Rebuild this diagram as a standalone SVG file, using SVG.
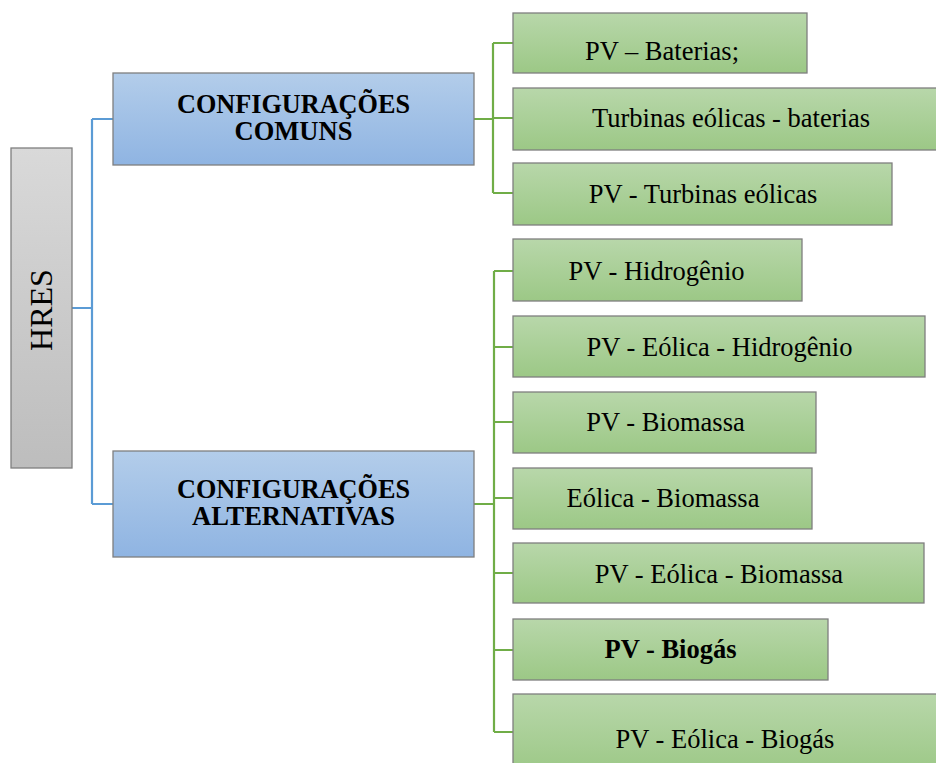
<svg xmlns="http://www.w3.org/2000/svg" width="936" height="763" viewBox="0 0 936 763">
  <defs>
    <linearGradient id="gGray" x1="0" y1="0" x2="0" y2="1">
      <stop offset="0" stop-color="#d9d9d9"/>
      <stop offset="1" stop-color="#bdbdbd"/>
    </linearGradient>
    <linearGradient id="gBlue" x1="0" y1="0" x2="0" y2="1">
      <stop offset="0" stop-color="#b3cdea"/>
      <stop offset="1" stop-color="#8fb4e2"/>
    </linearGradient>
    <linearGradient id="gGreen" x1="0" y1="0" x2="0" y2="1">
      <stop offset="0" stop-color="#b8d7aa"/>
      <stop offset="1" stop-color="#9cc886"/>
    </linearGradient>
  </defs>
  <style>
    .box { stroke: #7f7f7f; stroke-width: 1.3; }
    .root { fill: url(#gGray); }
    .cat { fill: url(#gBlue); }
    .leaf { fill: url(#gGreen); }
    .lbl { font-family: "Liberation Serif", "Times New Roman", serif; font-size: 26.5px; fill: #000; text-anchor: middle; }
    .hdr { font-family: "Liberation Serif", "Times New Roman", serif; font-size: 26.5px; font-weight: bold; fill: #000; text-anchor: middle; }
    .bold { font-weight: bold; }
    .blue { stroke: #5b9bd5; stroke-width: 2.2; fill: none; }
    .green { stroke: #70ad47; stroke-width: 2.2; fill: none; }
  </style>

  <!-- connectors -->
  <g id="connectors">
    <path class="blue" d="M72 308 H92 M92 119 V504 M92 119 H113 M92 504 H113"/>
    <path class="green" d="M474 119 H493 M493 43 V193 M493 43 H513 M493 118 H513 M493 193 H513"/>
    <path class="green" d="M474 504 H494 M494 271 V732 M494 271 H513 M494 347 H513 M494 422 H513 M494 498 H513 M494 573 H513 M494 650 H513 M494 732 H513"/>
  </g>

  <g id="hres">
    <rect class="box root" x="11" y="148" width="61" height="320"/>
    <text class="lbl" style="font-size:32px" transform="translate(52 310) rotate(-90)">HRES</text>
  </g>

  <g id="comuns">
    <rect class="box cat" x="113" y="73" width="361" height="92"/>
    <text class="hdr" x="293.5" y="113" textLength="233" lengthAdjust="spacingAndGlyphs">CONFIGURAÇÕES</text>
    <text class="hdr" x="293.5" y="140">COMUNS</text>
  </g>

  <g id="alternativas">
    <rect class="box cat" x="113" y="451" width="361" height="106"/>
    <text class="hdr" x="293.5" y="498" textLength="233" lengthAdjust="spacingAndGlyphs">CONFIGURAÇÕES</text>
    <text class="hdr" x="293.5" y="525">ALTERNATIVAS</text>
  </g>

  <g id="pv-baterias">
    <rect class="box leaf" x="513" y="13" width="294" height="60"/>
    <text class="lbl" x="662" y="60">PV – Baterias;</text>
  </g>
  <g id="turbinas-baterias">
    <rect class="box leaf" x="513" y="88" width="430" height="62"/>
    <text class="lbl" x="731" y="127">Turbinas eólicas - baterias</text>
  </g>
  <g id="pv-turbinas">
    <rect class="box leaf" x="513" y="163" width="379" height="62"/>
    <text class="lbl" x="703" y="203">PV - Turbinas eólicas</text>
  </g>

  <g id="pv-hidrogenio">
    <rect class="box leaf" x="513" y="239" width="289" height="62"/>
    <text class="lbl" x="656.5" y="280">PV - Hidrogênio</text>
  </g>
  <g id="pv-eolica-hidrogenio">
    <rect class="box leaf" x="513" y="316" width="412" height="61"/>
    <text class="lbl" x="719.5" y="356">PV - Eólica - Hidrogênio</text>
  </g>
  <g id="pv-biomassa">
    <rect class="box leaf" x="513" y="392" width="303" height="61"/>
    <text class="lbl" x="665.5" y="431">PV - Biomassa</text>
  </g>
  <g id="eolica-biomassa">
    <rect class="box leaf" x="513" y="468" width="299" height="61"/>
    <text class="lbl" x="663" y="507">Eólica - Biomassa</text>
  </g>
  <g id="pv-eolica-biomassa">
    <rect class="box leaf" x="513" y="543" width="411" height="60"/>
    <text class="lbl" x="719" y="583">PV - Eólica - Biomassa</text>
  </g>
  <g id="pv-biogas">
    <rect class="box leaf" x="513" y="619" width="315" height="61"/>
    <text class="lbl bold" x="670.5" y="658">PV - Biogás</text>
  </g>
  <g id="pv-eolica-biogas">
    <rect class="box leaf" x="513" y="694" width="430" height="80"/>
    <text class="lbl" x="725" y="748">PV - Eólica - Biogás</text>
  </g>
</svg>
